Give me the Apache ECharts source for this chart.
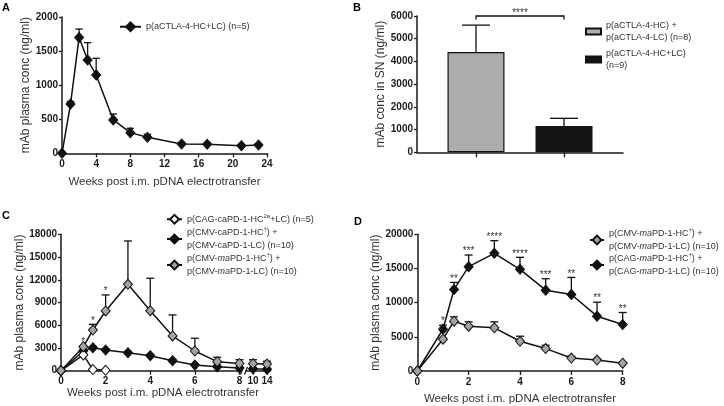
<!DOCTYPE html>
<html><head><meta charset="utf-8">
<script src="https://cdn.jsdelivr.net/npm/echarts@6/dist/echarts.min.js"></script>
<style>html,body{margin:0;padding:0;background:#fff}#c{width:724px;height:406px}</style>
</head><body><div id="c"></div>
<script>
// ---------- DATA ----------
// Panel A
const weeksA = [0, 1, 2, 3, 4, 6, 8, 10, 14, 17, 21, 23];
const concA = [0, 724, 1700, 1369, 1149, 489, 303, 235, 137, 132, 112, 122];
const errTopA = [0, 760, 1824, 1623, 1394, 577, 367, 279, 160, 150, 130, 140];
// Panel B
const groupsB = [1, 2];
const concB = [4411, 1157];
const errTopB = [5598, 1495];
const sigB = '****';
// Panel C
const weeksC = [0, 1, 1.43, 2, 3, 4, 5, 6, 7, 8, 10, 14];
const concC_white = [0, 2080, 150, 50, null, null, null, null, null, null, null, null];
const errC_white = [0, 2250, 250, 120, null, null, null, null, null, null, null, null];
const concC_black = [0, 2600, 3040, 2730, 2380, 1980, 1320, 750, 530, 350, 260, 200];
const errC_black = [0, 2700, 3200, 2900, 2550, 2150, 1500, 900, 700, 450, 400, 300];
const concC_gray = [0, 3170, 5370, 7880, 11400, 7920, 4580, 2600, 1190, 950, 920, 880];
const errC_gray = [0, 3300, 6120, 10000, 17120, 12200, 7360, 4280, 1770, 1450, 1450, 1250];
const starsC = ['', '*', '*', '*', '', '', '', '', '', '', '', ''];
const breakC = 8;
// Panel D
const weeksD = [0, 1, 1.43, 2, 3, 4, 5, 6, 7, 8];
const concD_cmv = [0, 4650, 7290, 6550, 6310, 4350, 3280, 1900, 1600, 1150];
const errD_cmv = [0, 4800, 7920, 7190, 7190, 5090, 3770, 2150, 1800, 1300];
const concD_cag = [0, 6110, 11930, 15260, 17210, 14870, 11830, 11200, 8020, 6800];
const errD_cag = [0, 6700, 12960, 16970, 19070, 16630, 13500, 13690, 10070, 8560];
const starsD = ['', '*', '**', '***', '****', '****', '***', '**', '**', '**'];

const xTitle = 'Weeks post i.m. pDNA electrotransfer';
const yTitleA = 'mAb plasma conc (ng/ml)';
const yTitleB = 'mAb conc in SN (ng/ml)';

const LEG = {
  A1: 'p(aCTLA-4-HC+LC) (n=5)',
  B1: 'p(aCTLA-4-HC) +\np(aCTLA-4-LC) (n=8)',
  B2: 'p(aCTLA-4-HC+LC)\n(n=9)',
  C1: 'p(CAG-caPD-1-HC{s|2a}+LC) (n=5)',
  C2: 'p(CMV-caPD-1-HC{s|†}) +\np(CMV-caPD-1-LC) (n=10)',
  C3: 'p(CMV-{i|ma}PD-1-HC{s|†}) +\np(CMV-{i|ma}PD-1-LC) (n=10)',
  D1: 'p(CMV-{i|ma}PD-1-HC{s|†}) +\np(CMV-{i|ma}PD-1-LC) (n=10)',
  D2: 'p(CAG-{i|ma}PD-1-HC{s|†}) +\np(CAG-{i|ma}PD-1-LC) (n=10)'
};

// ---------- STYLE / LAYOUT ----------
const FONT = '"Liberation Sans", Arial, Helvetica, sans-serif';
const AXC = '#1a1a1a';
const TXT = '#333';
const GRAY = '#a3a3a3';
const BLACK = '#111';

const G = {
  A: {left: 62, top: 17, width: 205, height: 136.3},
  B: {left: 417, top: 16, width: 206, height: 136.3},
  C1: {left: 61, top: 234.3, width: 178.5, height: 136.4},
  C2: {left: 246, top: 234.3, width: 24.5, height: 136.4},
  D: {left: 417.3, top: 234.3, width: 205.4, height: 136.7}
};
const plain = v => String(v);

function xAx(grid, min, max, interval, extra) {
  return Object.assign({
    type: 'value', gridIndex: grid, min: min, max: max, interval: interval,
    axisLine: {show: true, onZero: false, lineStyle: {color: AXC, width: 1.5}},
    axisTick: {show: true, length: 4, lineStyle: {color: AXC, width: 1.3}},
    axisLabel: {color: AXC, fontWeight: 'bold', fontSize: 10, fontFamily: FONT, margin: 6, formatter: plain},
    splitLine: {show: false},
    nameLocation: 'middle', nameGap: 22,
    nameTextStyle: {fontSize: 11.5, color: TXT, fontFamily: FONT}
  }, extra || {});
}
function yAx(grid, max, interval, extra) {
  return Object.assign({
    type: 'value', gridIndex: grid, min: 0, max: max, interval: interval,
    axisLine: {show: true, onZero: false, lineStyle: {color: AXC, width: 1.5}},
    axisTick: {show: true, length: 3, lineStyle: {color: AXC, width: 1.3}},
    axisLabel: {color: AXC, fontWeight: 'bold', fontSize: 10, fontFamily: FONT, margin: 4, formatter: plain},
    splitLine: {show: false},
    nameLocation: 'middle', nameGap: 31, nameRotate: 90,
    nameTextStyle: {fontSize: 12, color: TXT, fontFamily: FONT}
  }, extra || {});
}

function pts(xs, ys, keep) {
  const out = [];
  xs.forEach((x, i) => { if (ys[i] != null && keep(x)) out.push([x, ys[i]]); });
  return out;
}
function lineSeries(name, gi, xs, ys, fill, keep) {
  return {
    type: 'line', name: name, xAxisIndex: gi, yAxisIndex: gi,
    data: pts(xs, ys, keep || (() => true)),
    symbol: 'diamond', symbolSize: [9, 10], showSymbol: true, z: 3, silent: true,
    lineStyle: {color: BLACK, width: 1.5},
    itemStyle: {color: fill, borderColor: BLACK, borderWidth: 1}
  };
}
function errSeries(gi, xs, ys, tops, half, keep) {
  keep = keep || (() => true);
  const data = [];
  xs.forEach((x, i) => { if (ys[i] != null && keep(x)) data.push([x, ys[i], tops[i]]); });
  return {
    type: 'custom', xAxisIndex: gi, yAxisIndex: gi, z: 1, silent: true, data: data,
    encode: {x: 0, y: [1, 2]},
    renderItem: function (params, api) {
      const p0 = api.coord([api.value(0), api.value(1)]);
      const p1 = api.coord([api.value(0), api.value(2)]);
      const st = {stroke: BLACK, lineWidth: 1.3};
      return {type: 'group', children: [
        {type: 'line', shape: {x1: p0[0], y1: p0[1], x2: p1[0], y2: p1[1]}, style: st},
        {type: 'line', shape: {x1: p1[0] - half, y1: p1[1], x2: p1[0] + half, y2: p1[1]}, style: st}
      ]};
    }
  };
}
function starSeries(gi, xs, tops, stars, keep) {
  keep = keep || (() => true);
  const data = [], labels = [];
  xs.forEach((x, i) => { if (tops[i] != null && keep(x)) { data.push([x, tops[i]]); labels.push(stars[i]); } });
  return {
    type: 'custom', xAxisIndex: gi, yAxisIndex: gi, z: 4, silent: true, data: data,
    renderItem: function (params, api) {
      const s = labels[params.dataIndex];
      const p = api.coord([api.value(0), api.value(1)]);
      if (!s) return {type: 'group', children: []};
      return {type: 'text', x: p[0], y: p[1] + 1.5,
        style: {text: s, align: 'center', verticalAlign: 'bottom', fontSize: 10, fontFamily: FONT, fill: TXT}};
    }
  };
}
function legend(names, left, top, w, h, gap, icon) {
  const l = {
    data: names, left: left, top: top, orient: 'vertical', padding: 0,
    itemWidth: w, itemHeight: h, itemGap: gap, selectedMode: false,
    formatter: n => LEG[n],
    textStyle: {fontSize: 9, fontFamily: FONT, color: TXT, lineHeight: 12.5,
      rich: {
        i: {fontStyle: 'italic', fontSize: 9, fontFamily: FONT, color: TXT, lineHeight: 12.5},
        s: {fontSize: 6, fontFamily: FONT, color: TXT, verticalAlign: 'top', lineHeight: 12.5}
      }}
  };
  if (icon) l.icon = icon;
  return l;
}

const le8 = x => x <= breakC;
const gt8 = x => x > breakC;

const option = {
  animation: false,
  grid: [
    Object.assign({outerBoundsMode: 'none'}, G.A),
    Object.assign({outerBoundsMode: 'none'}, G.B),
    Object.assign({outerBoundsMode: 'none'}, G.C1),
    Object.assign({outerBoundsMode: 'none'}, G.C2),
    Object.assign({outerBoundsMode: 'none'}, G.D)
  ],
  xAxis: [
    xAx(0, 0, 24, 4, {name: xTitle, nameGap: 23}),
    xAx(1, 0.33, 2.67, 1, {axisTick: {show: true, length: 5, customValues: groupsB, lineStyle: {color: AXC, width: 1.3}}, axisLabel: {show: false}}),
    xAx(2, 0, 8, 2),
    xAx(3, 8, 15, 1, {
      axisTick: {show: true, length: 4, customValues: [10, 14], lineStyle: {color: AXC, width: 1.3}},
      axisLabel: {color: AXC, fontWeight: 'bold', fontSize: 10, fontFamily: FONT, margin: 6, customValues: [10, 14], formatter: plain}
    }),
    xAx(4, 0, 8, 2, {name: xTitle})
  ],
  yAxis: [
    yAx(0, 2000, 500, {name: yTitleA, nameGap: 30}),
    yAx(1, 6000, 1000, {name: yTitleB, nameGap: 30}),
    yAx(2, 18000, 3000, {name: yTitleA, nameGap: 33}),
    yAx(3, 18000, 3000, {show: false}),
    yAx(4, 20000, 5000, {name: yTitleA, nameGap: 30})
  ],
  legend: [
    legend(['A1'], 119, 20.5, 21, 11, 0),
    legend(['B1', 'B2'], 585, 19, 15, 6, 3, 'rect'),
    legend(['C1', 'C2', 'C3'], 166, 213, 15, 11, 1),
    legend(['D1', 'D2'], 589, 227.5, 14, 11, 0)
  ],
  graphic: [
    {type: 'text', left: 2, top: 2, style: {text: 'A', fontSize: 11, fontWeight: 'bold', fontFamily: FONT, fill: '#000'}},
    {type: 'text', left: 353, top: 2, style: {text: 'B', fontSize: 11, fontWeight: 'bold', fontFamily: FONT, fill: '#000'}},
    {type: 'text', left: 2, top: 210, style: {text: 'C', fontSize: 11, fontWeight: 'bold', fontFamily: FONT, fill: '#000'}},
    {type: 'text', left: 354, top: 216, style: {text: 'D', fontSize: 11, fontWeight: 'bold', fontFamily: FONT, fill: '#000'}},
    {type: 'text', x: 163, y: 392.5, style: {text: xTitle, align: 'center', verticalAlign: 'middle', fontSize: 11.5, fontFamily: FONT, fill: TXT}},
    {type: 'line', shape: {x1: 240.5, y1: 374.5, x2: 243.5, y2: 367}, style: {stroke: AXC, lineWidth: 1.3}},
    {type: 'line', shape: {x1: 244.5, y1: 374.5, x2: 247.5, y2: 367}, style: {stroke: AXC, lineWidth: 1.3}}
  ],
  series: [
    // A
    errSeries(0, weeksA, concA, errTopA, 3.7),
    lineSeries('A1', 0, weeksA, concA, BLACK),
    // B
    {type: 'bar', name: 'B1', xAxisIndex: 1, yAxisIndex: 1, barWidth: 57, barGap: '-100%', z: 2, silent: true,
      data: [[groupsB[0], concB[0]]], itemStyle: {color: '#adadad', borderColor: BLACK, borderWidth: 1.2}},
    {type: 'bar', name: 'B2', xAxisIndex: 1, yAxisIndex: 1, barWidth: 57, barGap: '-100%', z: 2, silent: true,
      data: [[groupsB[1], concB[1]]], itemStyle: {color: '#141414', borderColor: BLACK, borderWidth: 1.2}},
    errSeries(1, groupsB, concB, errTopB, 14),
    {type: 'custom', xAxisIndex: 1, yAxisIndex: 1, z: 4, silent: true, data: [[groupsB[0], groupsB[1], 6000]],
      renderItem: function (params, api) {
        const a = api.coord([api.value(0), api.value(2)]);
        const b = api.coord([api.value(1), api.value(2)]);
        const d = api.coord([api.value(0), api.value(2) * 0.975]);
        return {type: 'group', children: [
          {type: 'polyline', shape: {points: [[a[0], d[1]], [a[0], a[1]], [b[0], a[1]], [b[0], d[1]]]},
            style: {stroke: BLACK, lineWidth: 1.3, fill: null}},
          {type: 'text', x: (a[0] + b[0]) / 2, y: a[1] + 2,
            style: {text: sigB, align: 'center', verticalAlign: 'bottom', fontSize: 10, fontFamily: FONT, fill: TXT}}
        ]};
      }},
    // C (0-8)
    errSeries(2, weeksC, concC_black, errC_black, 4, le8),
    errSeries(2, weeksC, concC_white, errC_white, 4, le8),
    errSeries(2, weeksC, concC_gray, errC_gray, 4, le8),
    lineSeries('C2', 2, weeksC, concC_black, BLACK, le8),
    lineSeries('C1', 2, weeksC, concC_white, '#ffffff', le8),
    lineSeries('C3', 2, weeksC, concC_gray, GRAY, le8),
    starSeries(2, weeksC, errC_gray, starsC, le8),
    // C (10-14)
    errSeries(3, weeksC, concC_black, errC_black, 4, gt8),
    errSeries(3, weeksC, concC_gray, errC_gray, 4, gt8),
    lineSeries('C2', 3, weeksC, concC_black, BLACK, gt8),
    lineSeries('C3', 3, weeksC, concC_gray, GRAY, gt8),
    // D
    errSeries(4, weeksD, concD_cag, errD_cag, 4),
    errSeries(4, weeksD, concD_cmv, errD_cmv, 4),
    lineSeries('D2', 4, weeksD, concD_cag, BLACK),
    lineSeries('D1', 4, weeksD, concD_cmv, GRAY),
    starSeries(4, weeksD, errD_cag, starsD)
  ]
};

const chart = echarts.init(document.getElementById('c'), null, {renderer: 'canvas'});
chart.setOption(option);
</script>
</body></html>
